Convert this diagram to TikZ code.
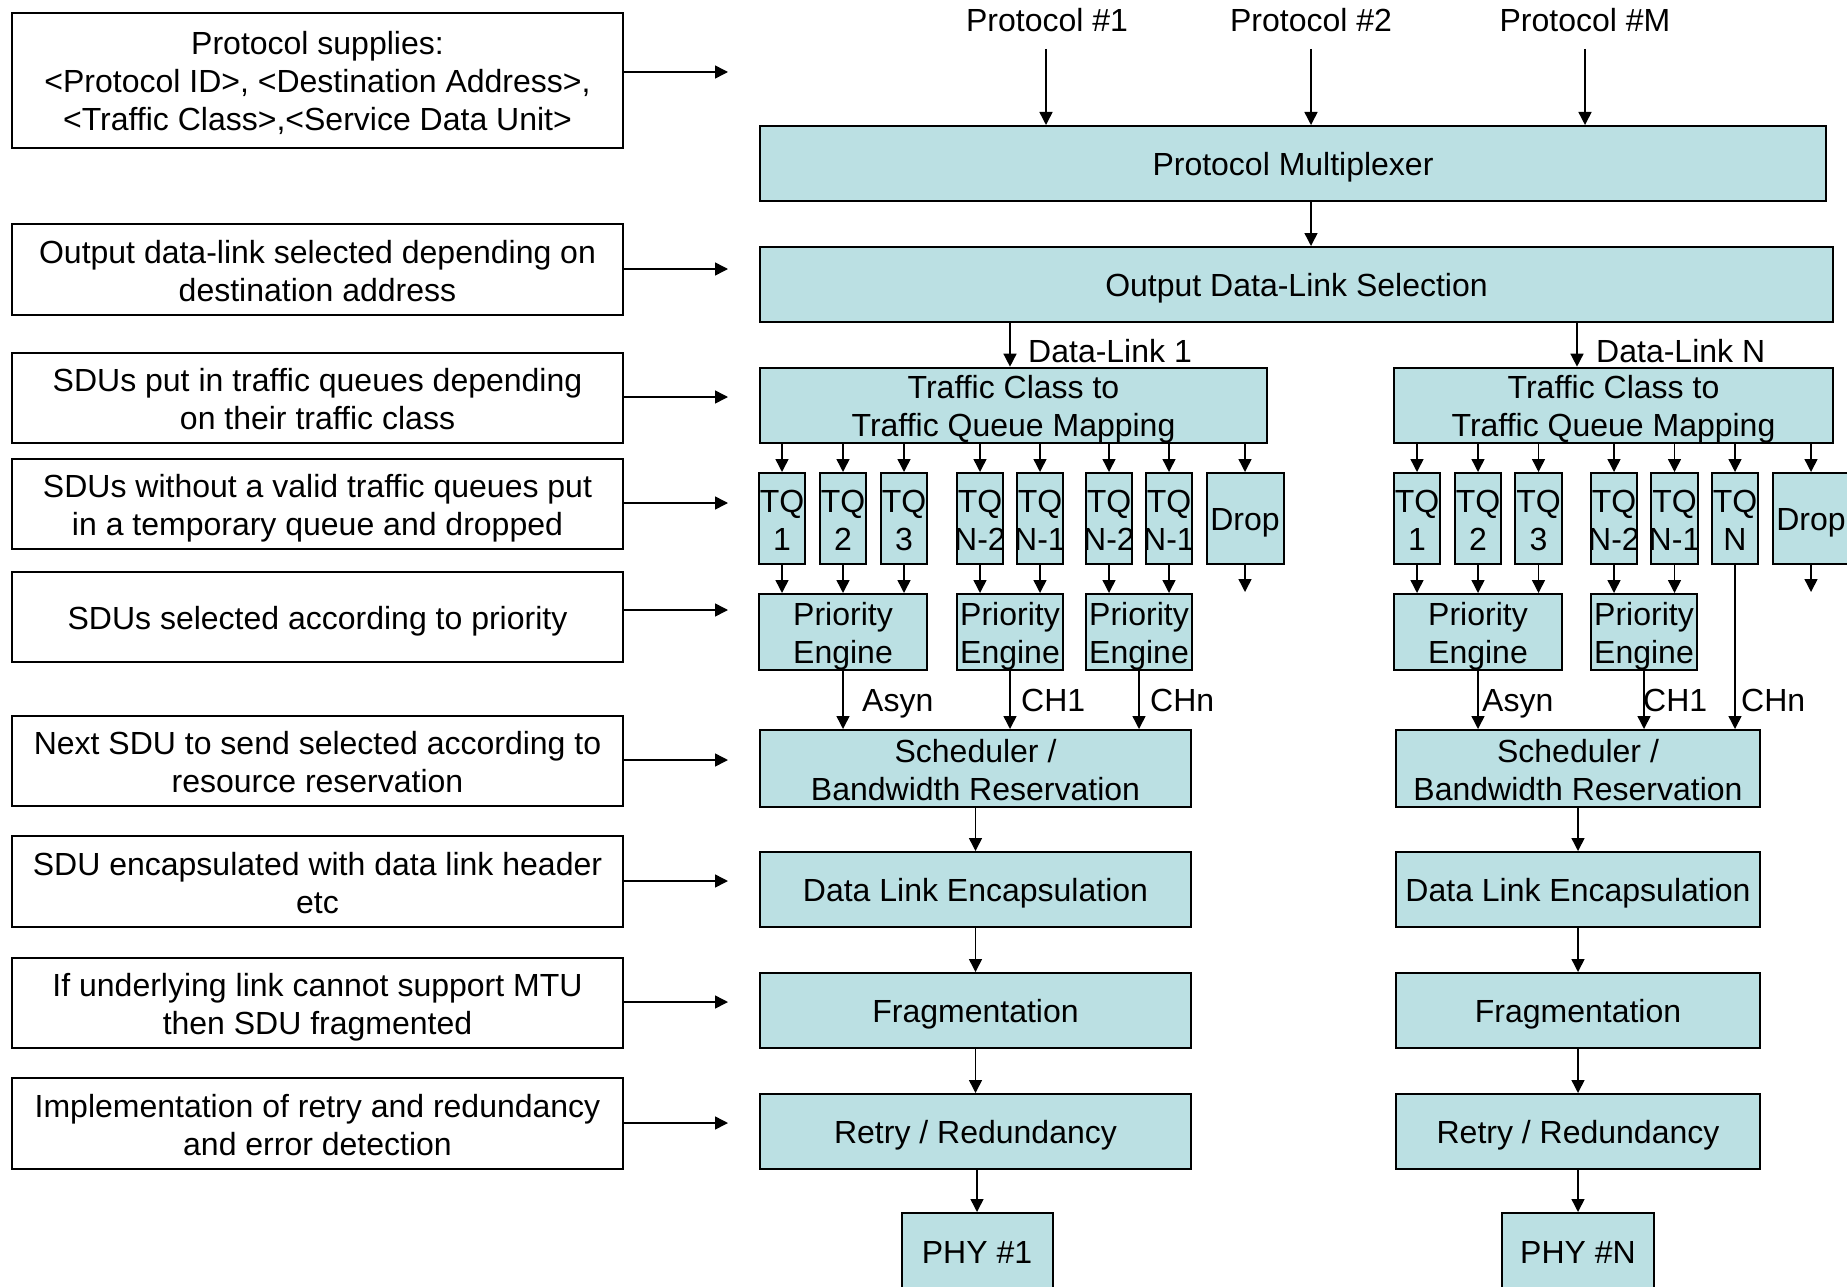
\documentclass[tikz,border=0pt]{standalone}
\usepackage{fontspec}
\setmainfont{Liberation Sans}
\usetikzlibrary{arrows.meta}
\definecolor{blockfill}{RGB}{187,224,227}
\newcommand\zw[1]{\makebox[0pt]{#1}}
% uniform line box so that every text line sits at the same height
\newcommand\linestrut{\rule[-6pt]{0pt}{37pt}}
\begin{document}
\begin{tikzpicture}[x=1pt,y=-1pt,
  every node/.style={font=\fontsize{32}{38}\selectfont, inner sep=0pt,
    execute at begin node=\linestrut, execute at end node=\linestrut},
  multi/.style={execute at begin node=\rule{0pt}{69pt}},
  multithree/.style={execute at begin node=\rule{0pt}{107pt}},
  note/.style={draw=black, line width=1.8pt, fill=white, align=center, minimum width=611pt},
  blk/.style={draw=black, line width=2pt, fill=blockfill, align=center},
  tq/.style={blk, multi, minimum width=46.5pt, minimum height=91pt},
  pe/.style={blk, multi, minimum height=76pt},
  stage/.style={blk, minimum height=75pt},
  arr/.style={line width=1.5pt, -{Triangle[length=13pt,width=13pt]}},
  lbl/.style={anchor=west}]
\useasboundingbox (0,0) rectangle (1847,1287);
\clip (0,0) rectangle (1847,1287);

% ---------- explanatory notes (left) ----------
\node[note, multithree, minimum height=135pt] (n1) at (317.5,80.5) {Protocol supplies:\\<Protocol ID>, <Destination Address>,\\<Traffic Class>,<Service Data Unit>};
\node[note, multi, minimum height=91pt] (n2) at (317.5,269.5) {Output data-link selected depending on\\destination address};
\node[note, multi, minimum height=90pt] (n3) at (317.5,398) {SDUs put in traffic queues depending\\on their traffic class};
\node[note, multi, minimum height=90pt] (n4) at (317.5,504) {SDUs without a valid traffic queues put\\in a temporary queue and dropped};
\node[note, minimum height=90pt] (n5) at (317.5,617) {SDUs selected according to priority};
\node[note, multi, minimum height=90pt] (n6) at (317.5,761) {Next SDU to send selected according to\\resource reservation};
\node[note, multi, minimum height=91pt] (n7) at (317.5,881.5) {SDU encapsulated with data link header\\etc};
\node[note, multi, minimum height=90pt] (n8) at (317.5,1003) {If underlying link cannot support MTU\\then SDU fragmented};
\node[note, multi, minimum height=91pt] (n9) at (317.5,1123.5) {Implementation of retry and redundancy\\and error detection};

\coordinate (t1) at (728,72);
\coordinate (t2) at (728,269);
\coordinate (t3) at (728,397);
\coordinate (t4) at (728,503);
\coordinate (t5) at (728,610);
\coordinate (t6) at (728,760);
\coordinate (t7) at (728,881);
\coordinate (t8) at (728,1002);
\coordinate (t9) at (728,1123);
\foreach \i in {1,...,9} \draw[arr] (n\i.east |- t\i) -- (t\i);

% ---------- protocol inputs ----------
\node (pr1) at (1047,19.5) {Protocol \#1};
\node (pr2) at (1311,19.5) {Protocol \#2};
\node (prm) at (1585,19.5) {Protocol \#M};
\coordinate (a1) at (1046,49);
\coordinate (a2) at (1311,49);
\coordinate (am) at (1585,49);

\node[blk, minimum width=1066pt, minimum height=75pt] (pm) at (1293,163.5) {Protocol Multiplexer};
\node[blk, minimum width=1073pt, minimum height=75pt] (odls) at (1296.5,284.5) {Output Data-Link Selection};

\foreach \c in {a1,a2,am} \draw[arr] (\c) -- (\c |- pm.north);
\draw[arr] (a2 |- pm.south) -- (a2 |- odls.north);

% ---------- data-link 1 ----------
\node[blk, multi, minimum width=507pt, minimum height=75pt] (tc1) at (1013.5,405.5) {Traffic Class to\\Traffic Queue Mapping};
\coordinate (d1) at (1010,0);
\draw[arr] (d1 |- odls.south) -- (d1 |- tc1.north);
\node[lbl] (dl1) at (1028,349.5) {Data-Link 1};

\node[tq] (q11) at (782,518.5) {\zw{TQ}\\\zw{1}};
\node[tq] (q12) at (843,518.5) {\zw{TQ}\\\zw{2}};
\node[tq] (q13) at (904,518.5) {\zw{TQ}\\\zw{3}};
\node[tq] (q14) at (980,518.5) {\zw{TQ}\\\zw{N-2}};
\node[tq] (q15) at (1040,518.5) {\zw{TQ}\\\zw{N-1}};
\node[tq] (q16) at (1109,518.5) {\zw{TQ}\\\zw{N-2}};
\node[tq] (q17) at (1169,518.5) {\zw{TQ}\\\zw{N-1}};
\node[blk, minimum width=77pt, minimum height=91pt] (drop1) at (1245,518.5) {Drop};
\foreach \q in {q11,q12,q13,q14,q15,q16,q17,drop1}
  \draw[arr] (\q.north |- tc1.south) -- (\q.north);
\coordinate (x1) at (1245,592);
\draw[arr] (drop1.south) -- (x1);

\node[pe, minimum width=168.5pt] (pe11) at (843,632) {Priority\\Engine};
\node[pe, minimum width=106.5pt] (pe12) at (1010,632) {Priority\\Engine};
\node[pe, minimum width=106.5pt] (pe13) at (1139,632) {Priority\\Engine};
\foreach \q/\p in {q11/pe11,q12/pe11,q13/pe11,q14/pe12,q15/pe12,q16/pe13,q17/pe13}
  \draw[arr] (\q.south) -- (\q.south |- \p.north);

\node[stage, multi, minimum width=431pt, minimum height=77pt] (sc1) at (975.5,768.5) {Scheduler /\\Bandwidth Reservation};
\foreach \p in {pe11,pe12,pe13} \draw[arr] (\p.south) -- (\p.south |- sc1.north);
\node[lbl] (as1) at (862,699) {Asyn};
\node[lbl] (c11) at (1021,699) {CH1};
\node[lbl] (cn1) at (1150,699) {CHn};

\node[stage, minimum width=431pt] (en1) at (975.5,889.5) {Data Link Encapsulation};
\node[stage, minimum width=431pt] (fr1) at (975.5,1010.5) {Fragmentation};
\node[stage, minimum width=431pt] (re1) at (975.5,1131.5) {Retry / Redundancy};
\node[blk, minimum width=151pt, minimum height=76pt] (ph1) at (977,1251) {PHY \#1};
\draw[arr] (sc1.south) -- (en1.north);
\draw[arr] (en1.south) -- (fr1.north);
\draw[arr] (fr1.south) -- (re1.north);
\draw[arr] (ph1.north |- re1.south) -- (ph1.north);

% ---------- data-link N ----------
\node[blk, multi, minimum width=439pt, minimum height=75pt] (tcn) at (1613.5,405.5) {Traffic Class to\\Traffic Queue Mapping};
\coordinate (dn) at (1577,0);
\draw[arr] (dn |- odls.south) -- (dn |- tcn.north);
\node[lbl] (dln) at (1596,349.5) {Data-Link N};

\node[tq] (q21) at (1417,518.5) {\zw{TQ}\\\zw{1}};
\node[tq] (q22) at (1478,518.5) {\zw{TQ}\\\zw{2}};
\node[tq] (q23) at (1538.5,518.5) {\zw{TQ}\\\zw{3}};
\node[tq] (q24) at (1614,518.5) {\zw{TQ}\\\zw{N-2}};
\node[tq] (q25) at (1674.5,518.5) {\zw{TQ}\\\zw{N-1}};
\node[tq] (q26) at (1735,518.5) {\zw{TQ}\\\zw{N}};
\node[blk, minimum width=77pt, minimum height=91pt] (drop2) at (1811,518.5) {Drop};
\foreach \q in {q21,q22,q23,q24,q25,q26,drop2}
  \draw[arr] (\q.north |- tcn.south) -- (\q.north);
\coordinate (x2) at (1811,592);
\draw[arr] (drop2.south) -- (x2);

\node[pe, minimum width=167.7pt] (pe21) at (1478,632) {Priority\\Engine};
\node[pe, minimum width=106pt] (pe22) at (1644,632) {Priority\\Engine};
\foreach \q/\p in {q21/pe21,q22/pe21,q23/pe21,q24/pe22,q25/pe22}
  \draw[arr] (\q.south) -- (\q.south |- \p.north);

\node[stage, multi, minimum width=364pt, minimum height=77pt] (sc2) at (1578,768.5) {Scheduler /\\Bandwidth Reservation};
\draw[arr] (pe21.south) -- (pe21.south |- sc2.north);
\draw[arr] (pe22.south) -- (pe22.south |- sc2.north);
\draw[arr] (q26.south) -- (q26.south |- sc2.north);
\node[lbl] (as2) at (1482,699) {Asyn};
\node[lbl] (c12) at (1643,699) {CH1};
\node[lbl] (cn2) at (1741,699) {CHn};

\node[stage, minimum width=364pt] (en2) at (1578,889.5) {Data Link Encapsulation};
\node[stage, minimum width=364pt] (fr2) at (1578,1010.5) {Fragmentation};
\node[stage, minimum width=364pt] (re2) at (1578,1131.5) {Retry / Redundancy};
\node[blk, minimum width=152pt, minimum height=76pt] (ph2) at (1578,1251) {PHY \#N};
\draw[arr] (sc2.south) -- (en2.north);
\draw[arr] (en2.south) -- (fr2.north);
\draw[arr] (fr2.south) -- (re2.north);
\draw[arr] (re2.south) -- (ph2.north);
\end{tikzpicture}
\end{document}
